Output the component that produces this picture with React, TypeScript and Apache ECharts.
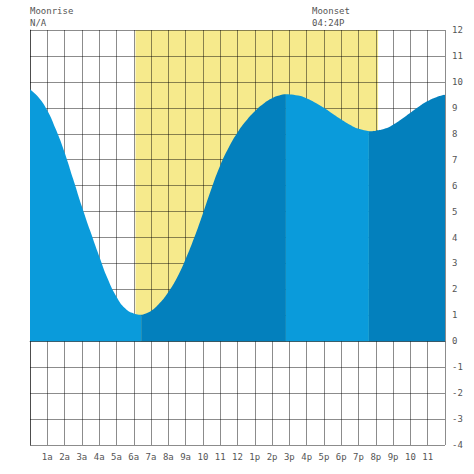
import React, { useEffect, useRef } from "react";
import * as echarts from "echarts";

// Tide heights (ft), by hour of day
const tideHours = [
  0, 0.5, 1, 1.5, 2, 2.5, 3, 3.5, 4, 4.5, 5, 5.5, 6, 6.43,
  7, 7.5, 8, 8.5, 9, 9.5, 10, 10.5, 11, 11.5, 12, 12.5, 13, 13.5, 14, 14.5, 14.8,
  15.5, 16, 16.5, 17, 17.5, 18, 18.5, 19, 19.6,
  20, 20.5, 21, 21.5, 22, 22.5, 23, 23.5, 24,
];
const tideFeet = [
  9.72, 9.4, 8.9, 8.16, 7.28, 6.25, 5.2, 4.22, 3.28, 2.4, 1.72, 1.27, 1.07, 1.02,
  1.17, 1.47, 1.9, 2.45, 3.17, 4.0, 4.93, 5.9, 6.78, 7.48, 8.05, 8.5, 8.87, 9.16, 9.37, 9.49, 9.52,
  9.47, 9.36, 9.2, 9.0, 8.77, 8.55, 8.35, 8.19, 8.1,
  8.12, 8.19, 8.35, 8.57, 8.81, 9.05, 9.26, 9.41, 9.5,
];
// hours of low / high water where the fill colour changes
const turnHours = [0, 6.43, 14.8, 19.6, 24];
const segmentColors = ["#0A9BDB", "#0380BD", "#0A9BDB", "#0380BD"];

// daylight (sunrise / sunset) in hours
const daylight = [6.1, 20.13];

const xTickLabels = [
  "", "1a", "2a", "3a", "4a", "5a", "6a", "7a", "8a", "9a", "10", "11",
  "12", "1p", "2p", "3p", "4p", "5p", "6p", "7p", "8p", "9p", "10", "11", "",
];

const moonTexts = [
  { title: "Moonrise", value: "N/A" },
  { title: "Moonset", value: "04:24P" },
];

export default function App() {
  const ref = useRef<HTMLDivElement>(null);
  useEffect(() => {
    if (!ref.current) return;
    const chart = echarts.init(ref.current, undefined, { renderer: "svg" });
    const font = "DejaVu Sans Mono";
    const grid = "rgba(0,0,0,0.45)";

    const segments = [];
    for (let s = 0; s < turnHours.length - 1; s++) {
      const a = turnHours[s];
      const b = turnHours[s + 1];
      const data = [];
      for (let i = 0; i < tideHours.length; i++) {
        if (tideHours[i] >= a && tideHours[i] <= b) data.push([tideHours[i], tideFeet[i]]);
      }
      segments.push({
        type: "line",
        data,
        smooth: 0.5,
        symbol: "none",
        z: 2,
        lineStyle: { width: 0 },
        areaStyle: { color: segmentColors[s], opacity: 1 },
        silent: true,
      });
    }

    chart.setOption({
      animation: false,
      backgroundColor: "#ffffff",
      grid: { left: 30, top: 30, width: 415, height: 415, containLabel: false },
      xAxis: {
        type: "value",
        min: 0,
        max: 24,
        interval: 1,
        z: 1,
        axisLine: { show: true, lineStyle: { color: grid, width: 1 } },
        axisTick: { show: false },
        splitLine: { show: true, lineStyle: { color: grid, width: 1 } },
        axisLabel: {
          color: "#555",
          fontFamily: font,
          fontSize: 9,
          margin: 7,
          formatter: (v: number) => xTickLabels[Math.round(v)] ?? "",
        },
      },
      yAxis: {
        type: "value",
        position: "right",
        min: -4,
        max: 12,
        interval: 1,
        z: 1,
        axisLine: { show: true, lineStyle: { color: grid, width: 1 } },
        axisTick: { show: false },
        splitLine: { show: true, lineStyle: { color: grid, width: 1 } },
        axisLabel: { color: "#555", fontFamily: font, fontSize: 9, margin: 7 },
      },
      graphic: [
        { type: "text", left: 30, top: 6, style: { text: moonTexts[0].title, fill: "#555", font: `9px ${font}` } },
        { type: "text", left: 30, top: 18, style: { text: moonTexts[0].value, fill: "#555", font: `9px ${font}` } },
        { type: "text", left: 312, top: 6, style: { text: moonTexts[1].title, fill: "#555", font: `9px ${font}` } },
        { type: "text", left: 312, top: 18, style: { text: moonTexts[1].value, fill: "#555", font: `9px ${font}` } },
      ],
      series: [
        {
          type: "line",
          data: [
            [daylight[0], 12],
            [daylight[1], 12],
          ],
          symbol: "none",
          z: 0,
          silent: true,
          lineStyle: { width: 0 },
          areaStyle: { color: "#F6EA8C", opacity: 1 },
        },
        ...segments,
      ],
    });
    return () => chart.dispose();
  }, []);
  return <div ref={ref} style={{ position: "fixed", left: 0, top: 0, width: 474, height: 474 }} />;
}
